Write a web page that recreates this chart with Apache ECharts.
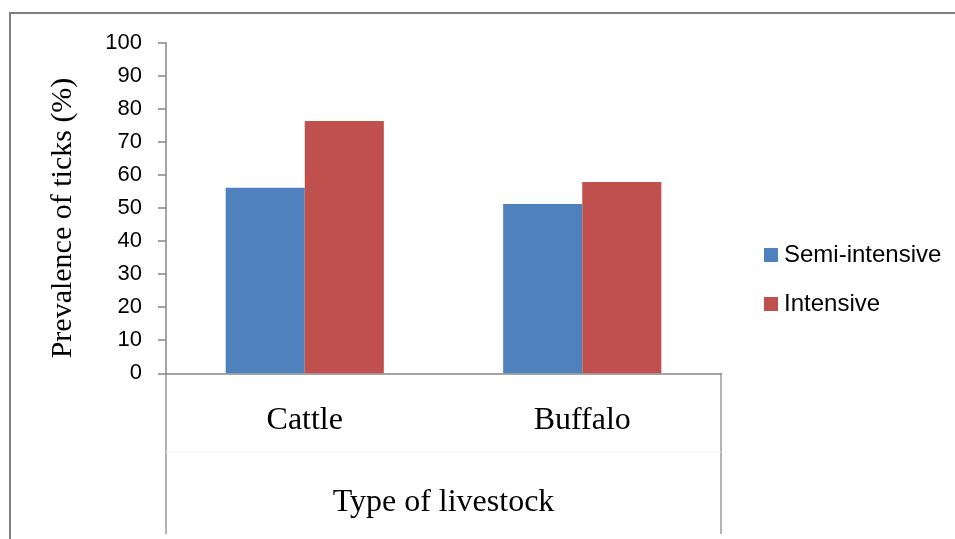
<!DOCTYPE html>
<html><head><meta charset="utf-8">
<script src="https://cdn.jsdelivr.net/npm/echarts@6/dist/echarts.min.js"></script>
<style>html,body{margin:0;padding:0;background:#fff}#c{width:955px;height:539px}</style>
</head><body><div id="c"></div>
<script>
const categories = ['Cattle', 'Buffalo'];
const semiIntensive = [56.1, 51.2];
const intensive = [76.3, 57.9];
const yTicks = [0, 10, 20, 30, 40, 50, 60, 70, 80, 90, 100];

const chart = echarts.init(document.getElementById('c'), null, {renderer: 'canvas'});
const axisGray = '#868686';
chart.setOption({
  animation: false,
  backgroundColor: '#fff',
  grid: {left: 166, right: 234, top: 42.7, bottom: 165.7, containLabel: false},
  legend: {
    orient: 'vertical', left: 759, top: 238, itemWidth: 14, itemHeight: 14, itemGap: 25,
    icon: 'rect',
    textStyle: {fontFamily: 'Liberation Sans', fontSize: 24, lineHeight: 24, color: '#000', padding: [0,0,0,1]},
    data: ['Semi-intensive', 'Intensive']
  },
  xAxis: {
    type: 'category', data: categories,
    axisLine: {lineStyle: {color: axisGray, width: 1.5}},
    axisTick: {show: false},
    axisLabel: {fontFamily: 'Liberation Serif', fontSize: 32, color: '#000', margin: 31},
    name: 'Type of livestock', nameLocation: 'middle', nameGap: 113,
    nameTextStyle: {fontFamily: 'Liberation Serif', fontSize: 32, color: '#000'}
  },
  yAxis: {
    type: 'value', min: yTicks[0], max: yTicks[yTicks.length - 1], interval: 10,
    axisLine: {show: true, lineStyle: {color: axisGray, width: 1.5}},
    axisTick: {show: true, inside: false, length: 8, lineStyle: {color: axisGray, width: 1.5}},
    splitLine: {show: false},
    axisLabel: {fontFamily: 'Liberation Sans', fontSize: 22, color: '#000', margin: 24},
    name: 'Prevalence of ticks (%)', nameLocation: 'middle', nameGap: 88, nameRotate: 90,
    nameTextStyle: {fontFamily: 'Liberation Serif', fontSize: 30, color: '#000', padding: [0, 20, 0, 0]}
  },
  series: [
    {name: 'Semi-intensive', type: 'bar', data: semiIntensive, barGap: '0%', barCategoryGap: '43%',
     itemStyle: {color: '#4F81BD'}},
    {name: 'Intensive', type: 'bar', data: intensive, barGap: '0%', barCategoryGap: '43%',
     itemStyle: {color: '#C0504D'}}
  ],
  graphic: [
    {type: 'polyline', shape: {points: [[10, 539], [10, 13], [955, 13]]}, style: {stroke: '#808080', lineWidth: 2, fill: null}, silent: true},
    {type: 'line', shape: {x1: 166, y1: 373, x2: 166, y2: 534}, style: {stroke: '#9a9a9a', lineWidth: 1.5}, silent: true},
    {type: 'line', shape: {x1: 721, y1: 373, x2: 721, y2: 534}, style: {stroke: '#9a9a9a', lineWidth: 1.5}, silent: true},
    {type: 'line', shape: {x1: 166, y1: 452, x2: 721, y2: 452}, style: {stroke: '#f2f2f2', lineWidth: 1}, silent: true}
  ]
});
</script></body></html>
